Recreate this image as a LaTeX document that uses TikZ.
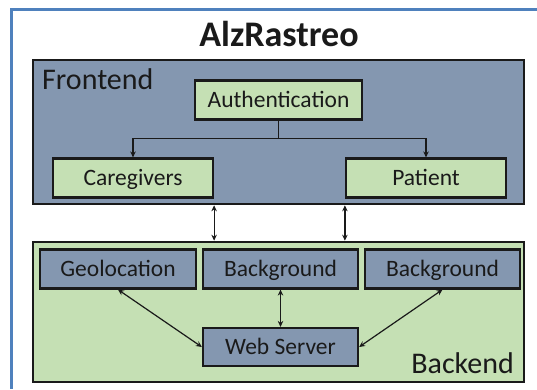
\documentclass[tikz,border=0pt]{standalone}
\usepackage{fontspec}
\setmainfont{Carlito}
\usetikzlibrary{arrows.meta}
\definecolor{frameblue}{HTML}{4F81BD}
\definecolor{feblue}{HTML}{8497B0}
\definecolor{begreen}{HTML}{C5E0B4}
\definecolor{ink}{HTML}{1A1A1A}
\tikzset{
  area/.style={draw=ink, line width=2.6pt, inner sep=0pt},
  box/.style={draw=ink, line width=2.2pt, inner sep=0pt, text=ink,
    font=\fontsize{23.5}{27}\selectfont, minimum height=39pt,
    text height=17pt, text depth=2pt},
  gbox/.style={box, fill=begreen},
  bbox/.style={box, fill=feblue},
  tip/.tip={Stealth[length=6pt,width=5.5pt]},
  link/.style={draw=ink, line width=1.2pt, -tip},
  blink/.style={draw=ink, line width=1.2pt, tip-tip},
  lbl/.style={inner sep=0pt, text=ink, font=\fontsize{30}{34}\selectfont}
}
\begin{document}
\begin{tikzpicture}[x=1pt,y=-1pt]
\useasboundingbox (0,0) rectangle (537,389);
\fill[white] (0,0) rectangle (537,389);
\draw[frameblue, line width=3pt] (537,9.5) -- (11,9.5) -- (11,389);
\node[inner sep=0pt, anchor=base, text=ink, font=\fontsize{36}{40}\selectfont\bfseries] (title) at (279,46) {AlzRastreo};
% areas
\node[area, fill=feblue, minimum width=491pt, minimum height=144pt] (fe) at (278.5,132) {};
\node[area, fill=begreen, minimum width=491pt, minimum height=140pt] (be) at (278.5,312) {};
\node[lbl, anchor=base west] (felbl) at (42,89) {Frontend};
\node[lbl, anchor=base east] (belbl) at (514,373) {Backend};
% frontend boxes
\node[gbox, minimum width=167pt] (auth) at (278.5,100) {Authentication};
\node[gbox, minimum width=160pt] (cg) at (133,178) {Caregivers};
\node[gbox, minimum width=160pt] (pt) at (426,178) {Patient};
% backend boxes
\node[bbox, minimum width=156pt] (geo) at (118,269) {Geolocation};
\node[bbox, minimum width=155pt] (bg1) at (280.5,269) {Background};
\node[bbox, minimum width=155pt] (bg2) at (442.5,269) {Background};
\node[bbox, minimum width=155pt, minimum height=38pt] (ws) at (280.5,347) {Web Server};
% connectors
\draw[draw=ink, line width=1.2pt] (auth.south) -- ++(0,18) coordinate (split);
\draw[link] (split) -| (cg.north);
\draw[link] (split) -| (pt.north);
\draw[blink] (cg.east |- fe.south) -- (cg.east |- be.north);
\draw[blink] (pt.west |- fe.south) -- (pt.west |- be.north);
\draw[blink] (geo.south) -- (ws.west);
\draw[blink] (bg1.south) -- (ws.north);
\draw[blink] (bg2.south) -- (ws.east);
\end{tikzpicture}
\end{document}
